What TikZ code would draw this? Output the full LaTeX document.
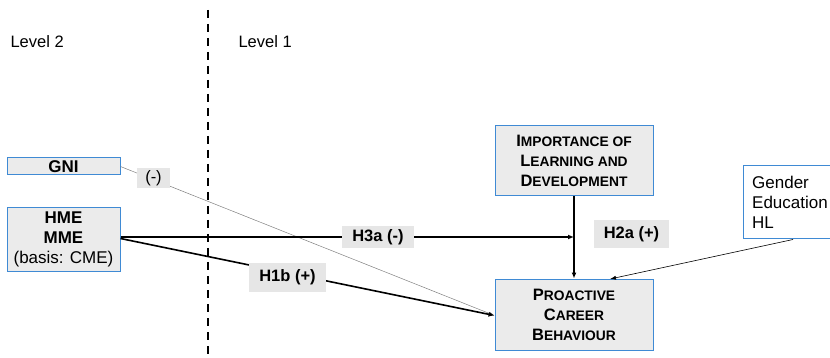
\documentclass[tikz,border=0pt]{standalone}
\usepackage{fontspec}
\setmainfont{Liberation Sans}
\usetikzlibrary{arrows.meta}
\definecolor{boxblue}{HTML}{3F8AD4}
\definecolor{boxgray}{HTML}{EBEBEB}
\definecolor{labgray}{HTML}{E6E6E6}
\newcommand{\capsc}[2]{{\fontsize{16.5}{20}\selectfont #1}{\fontsize{13.8}{20}\selectfont #2}}
\tikzset{
    construct/.style={draw=boxblue, line width=1pt, fill=boxgray, inner sep=0pt, align=center, font=\fontsize{17}{20}\selectfont},
    hyplabel/.style={fill=labgray, inner xsep=10pt, inner ysep=0pt, font=\bfseries\fontsize{16.5}{20}\selectfont},
    main arrow/.style={line width=1.6pt, -{Latex[length=6pt,width=5pt]}},
}
\begin{document}
\begin{tikzpicture}[x=1pt, y=-1pt]
                        \useasboundingbox (0,0) rectangle (830,358);
                        \node[anchor=west, font=\fontsize{16.5}{20}\selectfont] (lvltwo) at (7,42) {Level 2};
                        \node[anchor=west, font=\fontsize{16.5}{20}\selectfont] (lvlone) at (235,42) {Level 1};
                        \draw[line width=2pt, dash pattern=on 8pt off 6pt] (208,10) -- (208,358);
                        \node[construct, minimum width=113, minimum height=17, font=\bfseries\fontsize{17}{20}\selectfont] (gni) at (63.5,166.5) {GNI};
                        \node[construct, minimum width=113, minimum height=63] (hme) at (63.5,239.5) {\textbf{HME}\\\textbf{MME}\\(basis: CME)};
                        \node[construct, minimum width=158, minimum height=70, font=\bfseries\fontsize{17}{20}\selectfont] (imp) at (574,161) {\capsc{I}{MPORTANCE OF}\\\capsc{L}{EARNING AND}\\\capsc{D}{EVELOPMENT}};
                        \node[construct, minimum width=158, minimum height=71, font=\bfseries\fontsize{17}{20}\selectfont] (pcb) at (574,314.5) {\capsc{P}{ROACTIVE}\\\capsc{C}{AREER}\\\capsc{B}{EHAVIOUR}};
                        \node[construct, fill=white, minimum width=94, minimum height=73, align=left] (ctrl) at (790,202.5) {Gender\\Education\\HL};
                        \coordinate (meet) at (574,237);
                        \coordinate (ctrlend) at (610,279);
                        \draw[gray, line width=0.5pt, -{Latex[length=5pt,width=3pt]}] (gni.east) -- ([yshift=-1pt]pcb.west);
                        \draw[main arrow] (hme.east |- meet) -- (meet);
                        \draw[main arrow] (imp.south) -- (pcb.north);
                        \draw[main arrow] ([yshift=1pt]hme.east) -- ([yshift=-1pt]pcb.west);
                        \draw[line width=0.6pt, -{Latex[length=6pt,width=4pt]}] ([xshift=3pt]ctrl.south) -- (ctrlend);
                        \node[hyplabel, font=\fontsize{16.5}{20}\selectfont, inner xsep=8pt, minimum height=20] (neglab) at (153.5,178) {(-)};
                        \node[hyplabel, minimum height=22] (hthree) at (378,237) {H3a (-)};
                        \node[hyplabel, minimum height=28] (htwo) at (631.5,234) {H2a (+)};
                        \node[hyplabel, minimum height=29] (hone) at (287.5,277.5) {H1b (+)};
                    \end{tikzpicture}
\end{document}
